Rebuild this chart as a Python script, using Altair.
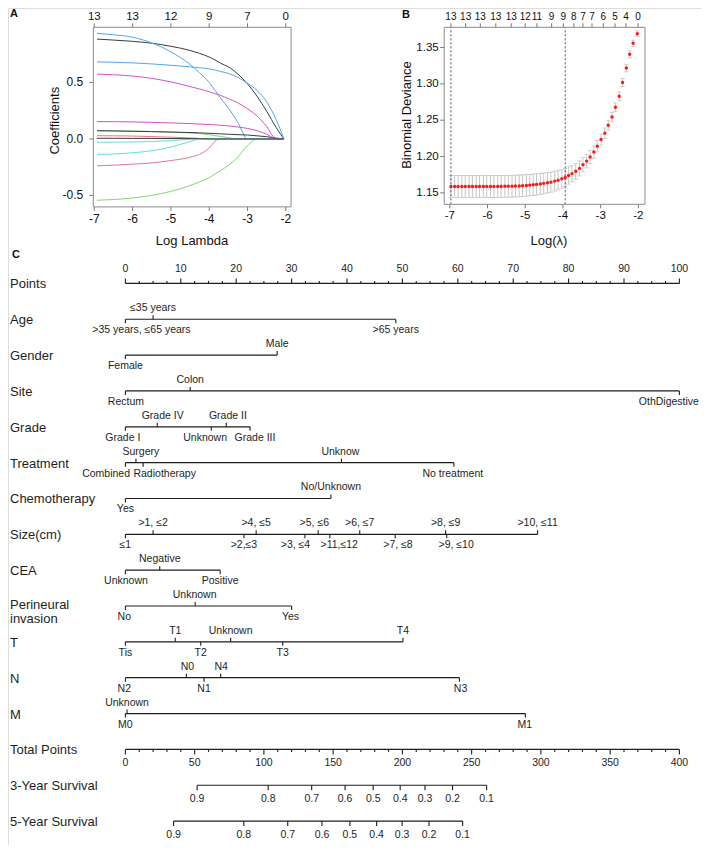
import altair as alt
import pandas as pd

FONT = "Liberation Sans"
INK = "#1e1e1e"
AXC = "#7a7a7a"
W, H = 693, 837

# ======================= Panel A : LASSO coefficient paths =======================
A_LOGLAMBDA = [-6.93, -6.5, -6.0, -5.5, -5.0, -4.5, -4.25, -4.0, -3.85, -3.7, -3.5,
               -3.25, -3.0, -2.75, -2.5, -2.25, -2.05]
A_COEF = {
    "V1":  [0.884, 0.875, 0.864, 0.847, 0.82, 0.783, 0.757, 0.725, 0.70, 0.67, 0.638, 0.574, 0.488, 0.377, 0.246, 0.10, 0.0],
    "V2":  [0.029, 0.028, 0.026, 0.021, 0.016, 0.009, 0.005, 0.0, 0.0, 0.0, 0.0, 0.0, 0.0, 0.0, 0.0, 0.0, 0.0],
    "V3":  [0.073, 0.072, 0.07, 0.066, 0.061, 0.053, 0.047, 0.038, 0.03, 0.022, 0.012, 0.0, 0.0, 0.0, 0.0, 0.0, 0.0],
    "V4":  [0.934, 0.922, 0.90, 0.85, 0.77, 0.66, 0.585, 0.50, 0.43, 0.36, 0.275, 0.145, 0.0, 0.0, 0.0, 0.0, 0.0],
    "V5":  [-0.029, -0.028, -0.026, -0.023, -0.014, -0.003, 0.0, 0.0, 0.0, 0.0, 0.0, 0.0, 0.0, 0.0, 0.0, 0.0, 0.0],
    "V6":  [0.574, 0.568, 0.557, 0.536, 0.505, 0.464, 0.442, 0.418, 0.40, 0.385, 0.357, 0.319, 0.267, 0.203, 0.11, 0.0, 0.0],
    "V7":  [0.073, 0.071, 0.068, 0.065, 0.061, 0.057, 0.054, 0.05, 0.048, 0.045, 0.042, 0.038, 0.035, 0.028, 0.02, 0.008, 0.0],
    "V8":  [-0.237, -0.232, -0.223, -0.212, -0.191, -0.162, -0.135, -0.080, -0.02, 0.0, 0.0, 0.0, 0.0, 0.0, 0.0, 0.0, 0.0],
    "V9":  [-0.542, -0.536, -0.522, -0.499, -0.464, -0.412, -0.38, -0.342, -0.31, -0.28, -0.232, -0.159, -0.058, 0.0, 0.0, 0.0, 0.0],
    "V10": [0.682, 0.679, 0.673, 0.664, 0.652, 0.638, 0.63, 0.62, 0.61, 0.597, 0.58, 0.545, 0.493, 0.429, 0.33, 0.17, 0.0],
    "V11": [-0.136, -0.133, -0.122, -0.104, -0.072, -0.023, 0.0, 0.0, 0.0, 0.0, 0.0, 0.0, 0.0, 0.0, 0.0, 0.0, 0.0],
    "V12": [0.154, 0.153, 0.151, 0.147, 0.142, 0.136, 0.132, 0.128, 0.125, 0.121, 0.116, 0.106, 0.093, 0.073, 0.043, 0.0, 0.0],
    "V13": [0.006, 0.006, 0.005, 0.005, 0.004, 0.003, 0.002, 0.0, 0.0, 0.0, 0.0, 0.0, 0.0, 0.0, 0.0, 0.0, 0.0],
}
A_COLORS = ["#3c3c3c", "#E8768A", "#7FD86C", "#4FA8EA", "#5CE0E3", "#D452C9",
            "#3c3c3c", "#E8768A", "#7FD86C", "#4FA8EA", "#5CE0E3", "#D452C9", "#3c3c3c"]
A_TICKS_X = [-7, -6, -5, -4, -3, -2]
A_TICKS_X_LABELS = ["-7", "-6", "-5", "-4", "-3", "-2"]
A_TICKS_Y = [-0.5, 0.0, 0.5]
A_TICKS_Y_LABELS = ["-0.5", "0.0", "0.5"]
A_TOP_AT = [-7, -6, -5, -4, -3, -2]
A_TOP_LABELS = ["13", "13", "12", "9", "7", "0"]
A_XTITLE, A_YTITLE = "Log Lambda", "Coefficients"
A_XDOM, A_YDOM = [-7.026, -1.862], [-0.601, 0.988]
A_XRANGE, A_YRANGE = [85.3, 283.1], [198.9, 19.3]

# ======================= Panel B : cross-validation deviance =======================
B_LOGLAMBDA = [-6.97, -6.87, -6.78, -6.68, -6.59, -6.49, -6.40, -6.30, -6.21, -6.11, -6.02,
               -5.92, -5.83, -5.73, -5.64, -5.54, -5.45, -5.35, -5.26, -5.16, -5.07,
               -4.97, -4.88, -4.79, -4.70,
               -4.60, -4.51, -4.41, -4.32, -4.22, -4.13, -4.03, -3.94,
               -3.85, -3.76, -3.66, -3.56, -3.47, -3.37, -3.28, -3.18, -3.09,
               -2.99, -2.89, -2.80, -2.70, -2.61, -2.51, -2.42, -2.32, -2.23, -2.14, -2.03]
B_DEV = [1.1588, 1.1588, 1.1588, 1.1588, 1.1588, 1.1588, 1.1588, 1.1588, 1.1588, 1.1588, 1.1588,
         1.1588, 1.1588, 1.1588, 1.1588, 1.1590, 1.1591, 1.1592, 1.1594, 1.1596, 1.1598,
         1.1603, 1.1607, 1.1612, 1.1617,
         1.1622, 1.1631, 1.1640, 1.1648, 1.1662, 1.1675, 1.1694, 1.1712,
         1.1739, 1.1765, 1.1797, 1.1837, 1.1887, 1.1937, 1.1995, 1.2062, 1.2143,
         1.2233, 1.2322, 1.2430, 1.2543, 1.2678, 1.2830, 1.3019, 1.3217, 1.3406, 1.3558, 1.3690]
B_SE = [0.0150, 0.0150, 0.0150, 0.0150, 0.0150, 0.0150, 0.0150, 0.0150, 0.0150, 0.0150, 0.0150,
        0.0150, 0.0150, 0.0150, 0.0150, 0.0150, 0.0150, 0.0150, 0.0150, 0.0150, 0.0150,
        0.0149, 0.0148, 0.0147, 0.0146,
        0.0145, 0.0143, 0.0141, 0.0139, 0.0136, 0.0132, 0.0128, 0.0124,
        0.0119, 0.0114, 0.0109, 0.0104, 0.0099, 0.0094, 0.0089, 0.0084, 0.0079,
        0.0075, 0.0071, 0.0068, 0.0065, 0.0062, 0.0059, 0.0056, 0.0052, 0.0048, 0.0044, 0.0040]
B_VLINES = [-6.97, -3.94]
B_TICKS_X = [-7, -6, -5, -4, -3, -2]
B_TICKS_X_LABELS = ["-7", "-6", "-5", "-4", "-3", "-2"]
B_TICKS_Y = [1.15, 1.20, 1.25, 1.30, 1.35]
B_TICKS_Y_LABELS = ["1.15", "1.20", "1.25", "1.30", "1.35"]
B_TOP_AT = [-6.97, -6.58, -6.19, -5.78, -5.37, -5.00, -4.69, -4.30, -3.99,
            -3.71, -3.47, -3.23, -2.93, -2.62, -2.33, -2.01]
B_TOP_LABELS = ["13", "13", "13", "13", "13", "12", "11", "9", "9",
                "8", "7", "7", "6", "5", "4", "0"]
B_XTITLE, B_YTITLE = "Log(λ)", "Binomial Deviance"
B_XDOM, B_YDOM = [-7.148, -1.825], [1.1343, 1.3778]
B_XRANGE, B_YRANGE = [436.2, 637.0], [196.3, 19.3]

# ======================= Panel C : nomogram =======================
NOMO_ROWS = ["Points", "Age", "Gender", "Site", "Grade", "Treatment", "Chemotherapy",
             "Size(cm)", "CEA", "Perineural\n\u00a0invasion", "T", "N", "M",
             "Total Points", "3-Year Survival", "5-Year Survival"]
VAR_LEVELS = [
    [">35 years, ≤65 years", "≤35 years", ">65 years"],
    ["Female", "Male"],
    ["Rectum", "Colon", "OthDigestive"],
    ["Grade I", "Grade IV", "Unknown", "Grade II", "Grade III"],
    ["Combined", "Surgery", "Radiotherapy", "Unknow", "No treatment"],
    ["Yes", "No/Unknown"],
    ["≤1", ">1, ≤2", ">2,≤3", ">4, ≤5", ">3, ≤4", ">5, ≤6", ">11,≤12", ">6, ≤7",
     ">7, ≤8", ">8, ≤9", ">9, ≤10", ">10, ≤11"],
    ["Unknown", "Negative", "Positive"],
    ["No", "Unknown", "Yes"],
    ["Tis", "T1", "T2", "Unknown", "T3", "T4"],
    ["N2", "N0", "N1", "N4", "N3"],
    ["M0", "Unknown", "M1"],
]
VAR_POINTS = [
    [0, 5.0, 48.8],
    [0, 27.4],
    [0, 11.7, 100],
    [0, 5.75, 15.5, 18.2, 22.5],
    [0, 1.9, 3.2, 39.0, 59.3],
    [0, 37.1],
    [0, 5.0, 21.4, 23.6, 32.4, 34.8, 36.9, 42.3, 48.7, 57.8, 58.0, 74.4],
    [0, 6.2, 17.1],
    [0, 12.6, 30.0],
    [0, 9.0, 13.6, 19.0, 28.4, 50.1],
    [0, 11.0, 14.2, 17.2, 60.3],
    [0, 0.3, 72.2],
]
VAR_SIDE = [
    ["down", "up", "down"],
    ["down", "up"],
    ["down", "up", "down"],
    ["down", "up", "down", "up", "down"],
    ["down", "up", "down", "up", "down"],
    ["down", "up"],
    ["down", "up", "down", "up", "down", "up", "down", "up", "down", "up", "down", "up"],
    ["down", "up", "down"],
    ["down", "up", "down"],
    ["down", "up", "down", "up", "down", "up"],
    ["down", "up", "down", "up", "down"],
    ["down", "up", "down"],
]
VAR_LABEL_AT = [
    [2.9, 5.0, 48.8],
    [0, 27.4],
    [0.1, 11.7, 98.1],
    [-0.46, 6.73, 14.39, 18.5, 23.39],
    [-3.48, 2.79, 7.09, 38.8, 59.1],
    [0, 37.1],
    [0, 5.0, 21.4, 23.6, 30.7, 34.1, 38.6, 42.3, 49.2, 57.8, 59.7, 74.4],
    [0.1, 6.2, 17.1],
    [-0.2, 12.5, 29.8],
    [0, 9.0, 13.6, 19.0, 28.4, 50.1],
    [-0.2, 11.2, 14.2, 17.3, 60.5],
    [0, 0.3, 72.1],
]
POINTS_MAJOR = [0, 10, 20, 30, 40, 50, 60, 70, 80, 90, 100]
POINTS_MINOR = [2.5, 5, 7.5, 12.5, 15, 17.5, 22.5, 25, 27.5, 32.5, 35, 37.5, 42.5, 45, 47.5,
                52.5, 55, 57.5, 62.5, 65, 67.5, 72.5, 75, 77.5, 82.5, 85, 87.5, 92.5, 95, 97.5]
TOTAL_MAX = 400
TOTAL_MAJOR = [0, 50, 100, 150, 200, 250, 300, 350, 400]
TOTAL_MINOR = [10, 20, 30, 40, 60, 70, 80, 90, 110, 120, 130, 140, 160, 170, 180, 190,
               210, 220, 230, 240, 260, 270, 280, 290, 310, 320, 330, 340, 360, 370, 380, 390]
SURV_PROB = ["0.9", "0.8", "0.7", "0.6", "0.5", "0.4", "0.3", "0.2", "0.1"]
SURV3_TOTAL = [51.8, 103.1, 134.5, 158.6, 178.9, 198.4, 216.3, 236.2, 260.8]
SURV5_TOTAL = [34.8, 85.5, 117.2, 141.9, 162.1, 181.4, 199.8, 219.2, 243.5]
N_XRANGE = [117.4, 671.4]
N_YRANGE = [275.4, 813.1]

# ---------------------------------------------------------------------------
def sc(dom, rng):
    return alt.Scale(domain=dom, range=rng, nice=False, zero=False)

ONE = alt.Data(values=[{}])


def framed_panel(xs, ys, xdom, ydom, xticks, xlabs, yticks, ylabs, toppos, toplabs,
                 tick_fs, top_fs, ylab_dx):
    """Box, tick marks and tick labels of an R-style base-graphics panel."""
    Xq = lambda f: alt.X(f, type="quantitative", scale=xs, axis=None)
    Yq = lambda f: alt.Y(f, type="quantitative", scale=ys, axis=None)
    box = alt.Chart(ONE).mark_rect(fillOpacity=0, stroke="#8a8a8a", strokeWidth=1).encode(
        x=alt.XDatum(xdom[0], type="quantitative", scale=xs, axis=None), x2=alt.X2Datum(xdom[1]),
        y=alt.YDatum(ydom[0], type="quantitative", scale=ys, axis=None), y2=alt.Y2Datum(ydom[1]))
    xdf = alt.Chart(pd.DataFrame({"at": xticks, "lab": xlabs}))
    ydf = alt.Chart(pd.DataFrame({"at": yticks, "lab": ylabs}))
    tdf = alt.Chart(pd.DataFrame({"at": toppos, "lab": toplabs}))
    ybot = alt.YDatum(ydom[0], type="quantitative", scale=ys, axis=None)
    ytop = alt.YDatum(ydom[1], type="quantitative", scale=ys, axis=None)
    xleft = alt.XDatum(xdom[0], type="quantitative", scale=xs, axis=None)
    bt = xdf.mark_rule(color=AXC, y2Offset=4).encode(x=Xq("at"), y=ybot, y2=alt.Y2Datum(ydom[0]))
    bl = xdf.mark_text(font=FONT, fontSize=tick_fs, color="#111", dy=12).encode(
        x=Xq("at"), y=ybot, text="lab:N")
    lt = ydf.mark_rule(color=AXC, x2Offset=-4).encode(y=Yq("at"), x=xleft, x2=alt.X2Datum(xdom[0]))
    ll = ydf.mark_text(font=FONT, fontSize=tick_fs, color="#111", align="right", dx=ylab_dx).encode(
        y=Yq("at"), x=xleft, text="lab:N")
    tt = tdf.mark_rule(color=AXC, y2Offset=-4).encode(x=Xq("at"), y=ytop, y2=alt.Y2Datum(ydom[1]))
    tl = tdf.mark_text(font=FONT, fontSize=top_fs, color="#111", dy=-10).encode(
        x=Xq("at"), y=ytop, text="lab:N")
    return [box, bt, bl, lt, ll, tt, tl]


def title_text(t, x, y, angle=0):
    return alt.Chart(ONE).mark_text(text=t, font=FONT, fontSize=13, color="#111",
                                    angle=angle, baseline="middle", align="center").encode(
        x=alt.value(x), y=alt.value(y))

# ----------------------------- Panel A -----------------------------
axA = sc(A_XDOM, A_XRANGE)
ayA = sc(A_YDOM, A_YRANGE)
a_df = pd.DataFrame([{"loglambda": x, "coef": c, "var": v}
                     for v, vals in A_COEF.items() for x, c in zip(A_LOGLAMBDA, vals)])
a_lines = alt.Chart(a_df).mark_line(strokeWidth=1, interpolate="monotone").encode(
    x=alt.X("loglambda:Q", scale=axA, axis=None),
    y=alt.Y("coef:Q", scale=ayA, axis=None),
    color=alt.Color("var:N", scale=alt.Scale(domain=list(A_COEF.keys()), range=A_COLORS), legend=None),
)
panelA = alt.layer(
    a_lines,
    *framed_panel(axA, ayA, A_XDOM, A_YDOM, A_TICKS_X, A_TICKS_X_LABELS, A_TICKS_Y,
                  A_TICKS_Y_LABELS, A_TOP_AT, A_TOP_LABELS, 12, 11.5, -10),
    title_text(A_XTITLE, 184, 232.6),
    title_text(A_YTITLE, 47, 112.7, angle=270),
)

# ----------------------------- Panel B -----------------------------
axB = sc(B_XDOM, B_XRANGE)
ayB = sc(B_YDOM, B_YRANGE)
b_df = pd.DataFrame({"loglambda": B_LOGLAMBDA, "dev": B_DEV, "se": B_SE})
b_base = alt.Chart(b_df).transform_calculate(lo="datum.dev - datum.se", hi="datum.dev + datum.se")
BX = alt.X("loglambda:Q", scale=axB, axis=None)
b_bars = b_base.mark_rule(color="#b8b8b8", strokeWidth=0.8).encode(
    x=BX, y=alt.Y("lo:Q", scale=ayB, axis=None), y2="hi:Q")
b_cap_lo = b_base.mark_tick(orient="horizontal", size=5, thickness=0.8, color="#b8b8b8").encode(
    x=BX, y=alt.Y("lo:Q", scale=ayB, axis=None))
b_cap_hi = b_base.mark_tick(orient="horizontal", size=5, thickness=0.8, color="#b8b8b8").encode(
    x=BX, y=alt.Y("hi:Q", scale=ayB, axis=None))
b_pts = b_base.mark_circle(size=12, color="#ff1a1a", opacity=1).encode(
    x=BX, y=alt.Y("dev:Q", scale=ayB, axis=None))
b_vl = alt.Chart(pd.DataFrame({"at": B_VLINES})).mark_rule(
    color="#444", strokeDash=[2, 2], strokeWidth=0.9).encode(
    x=alt.X("at:Q", scale=axB, axis=None),
    y=alt.YDatum(B_YDOM[0], type="quantitative", scale=ayB, axis=None), y2=alt.Y2Datum(B_YDOM[1]),
)
panelB = alt.layer(
    b_bars, b_cap_lo, b_cap_hi, b_pts, b_vl,
    *framed_panel(axB, ayB, B_XDOM, B_YDOM, B_TICKS_X, B_TICKS_X_LABELS, B_TICKS_Y,
                  B_TICKS_Y_LABELS, B_TOP_AT, B_TOP_LABELS, 11.5, 10, -5.5),
    title_text(B_XTITLE, 541, 232.6),
    title_text(B_YTITLE, 398.5, 107, angle=270),
)

# ----------------------------- Panel C -----------------------------
axN = sc([0, 100], N_XRANGE)
ayN = sc([0, len(NOMO_ROWS) - 1], N_YRANGE)
NX = lambda f: alt.X(f, type="quantitative", scale=axN, axis=None)
NY = lambda f: alt.Y(f, type="quantitative", scale=ayN, axis=None)

lev_rows = []
line_rows = []
for i, (levs, pts, sides, lab_at) in enumerate(zip(VAR_LEVELS, VAR_POINTS, VAR_SIDE, VAR_LABEL_AT)):
    r = i + 1
    for lv, p, s, la in zip(levs, pts, sides, lab_at):
        lev_rows.append({"row": r, "level": lv, "pts": p, "side": s, "lab_at": la})
    line_rows.append({"row": r, "x0": min(pts), "x1": max(pts)})
ROW_TOTAL, ROW_S3, ROW_S5 = 13, 14, 15
line_rows.append({"row": 0, "x0": POINTS_MAJOR[0], "x1": POINTS_MAJOR[-1]})
line_rows.append({"row": ROW_TOTAL, "x0": TOTAL_MAJOR[0] * 100 / TOTAL_MAX, "x1": TOTAL_MAJOR[-1] * 100 / TOTAL_MAX})
line_rows.append({"row": ROW_S3, "x0": min(SURV3_TOTAL) * 100 / TOTAL_MAX, "x1": max(SURV3_TOTAL) * 100 / TOTAL_MAX})
line_rows.append({"row": ROW_S5, "x0": min(SURV5_TOTAL) * 100 / TOTAL_MAX, "x1": max(SURV5_TOTAL) * 100 / TOTAL_MAX})
lev_df = pd.DataFrame(lev_rows)
line_df = pd.DataFrame(line_rows)

TXT = dict(font=FONT, fontSize=10.5, color=INK)

n_lines = alt.Chart(line_df).mark_rule(color=INK, strokeWidth=1.2).encode(
    x=NX("x0"), x2="x1", y=NY("row"))
lev_base = alt.Chart(lev_df)
n_tick_up = lev_base.transform_filter("datum.side == 'up'").mark_rule(
    color=INK, strokeWidth=1.1, y2Offset=-4).encode(x=NX("pts"), y=NY("row"), y2="row")
n_tick_dn = lev_base.transform_filter("datum.side == 'down'").mark_rule(
    color=INK, strokeWidth=1.1, y2Offset=4).encode(x=NX("pts"), y=NY("row"), y2="row")
n_lab_up = lev_base.transform_filter("datum.side == 'up'").mark_text(dy=-11, **TXT).encode(
    x=NX("lab_at"), y=NY("row"), text="level:N")
n_lab_dn = lev_base.transform_filter("datum.side == 'down'").mark_text(dy=11, **TXT).encode(
    x=NX("lab_at"), y=NY("row"), text="level:N")

pmaj = alt.Chart(pd.DataFrame({"v": POINTS_MAJOR, "row": 0}))
pmin = alt.Chart(pd.DataFrame({"v": POINTS_MINOR, "row": 0}))
p_maj_t = pmaj.mark_rule(color=INK, strokeWidth=1.1, y2Offset=-5).encode(x=NX("v"), y=NY("row"), y2="row")
p_min_t = pmin.mark_rule(color=INK, strokeWidth=1.1, y2Offset=-2.5).encode(x=NX("v"), y=NY("row"), y2="row")
p_lab = pmaj.mark_text(dy=-14, **TXT).encode(x=NX("v"), y=NY("row"), text=alt.Text("v:Q", format="d"))

tmaj = alt.Chart(pd.DataFrame({"tp": TOTAL_MAJOR, "row": ROW_TOTAL})).transform_calculate(
    v=f"datum.tp * 100 / {TOTAL_MAX}")
tmin = alt.Chart(pd.DataFrame({"tp": TOTAL_MINOR, "row": ROW_TOTAL})).transform_calculate(
    v=f"datum.tp * 100 / {TOTAL_MAX}")
t_maj_t = tmaj.mark_rule(color=INK, strokeWidth=1.1, y2Offset=5).encode(x=NX("v"), y=NY("row"), y2="row")
t_min_t = tmin.mark_rule(color=INK, strokeWidth=1.1, y2Offset=2.5).encode(x=NX("v"), y=NY("row"), y2="row")
t_lab = tmaj.mark_text(dy=14, **TXT).encode(x=NX("v"), y=NY("row"), text=alt.Text("tp:Q", format="d"))

surv_df = pd.DataFrame(
    [{"row": ROW_S3, "tp": t, "prob": p} for t, p in zip(SURV3_TOTAL, SURV_PROB)] +
    [{"row": ROW_S5, "tp": t, "prob": p} for t, p in zip(SURV5_TOTAL, SURV_PROB)])
sbase = alt.Chart(surv_df).transform_calculate(v=f"datum.tp * 100 / {TOTAL_MAX}")
s_t = sbase.mark_rule(color=INK, strokeWidth=1.1, y2Offset=5).encode(x=NX("v"), y=NY("row"), y2="row")
s_lab = sbase.mark_text(dy=14, **TXT).encode(x=NX("v"), y=NY("row"), text="prob:N")

names_df = pd.DataFrame({"row": list(range(len(NOMO_ROWS))), "name": NOMO_ROWS})
n_names = alt.Chart(names_df).transform_filter("indexof(datum.name, '\\n') < 0").mark_text(
    align="left", baseline="middle", dy=1, font=FONT, fontSize=13, color=INK).encode(
    x=alt.value(2), y=NY("row"), text="name:N")
n_names2 = alt.Chart(names_df).transform_filter("indexof(datum.name, '\\n') >= 0").mark_text(
    align="left", baseline="middle", dy=-1.5, lineBreak="\n", lineHeight=14,
    font=FONT, fontSize=13, color=INK).encode(
    x=alt.value(2), y=NY("row"), text="name:N")

panelC = alt.layer(n_lines, n_tick_up, n_tick_dn, n_lab_up, n_lab_dn,
                   p_maj_t, p_min_t, p_lab, t_maj_t, t_min_t, t_lab, s_t, s_lab,
                   n_names, n_names2)

# ----------------------------- panel letters -----------------------------
def letter(t, x, y):
    return alt.Chart(ONE).mark_text(text=t, font=FONT, fontSize=11, fontWeight="bold",
                                    align="left", baseline="top", color="#111").encode(
        x=alt.value(x), y=alt.value(y))

letters = alt.layer(letter("A", 2, 0), letter("B", 394, 1), letter("C", 4, 241))

chart = alt.layer(panelA, panelB, panelC, letters).resolve_scale(
    x="independent", y="independent", color="independent"
).properties(
    width=W, height=H, padding=0, autosize=alt.AutoSizeParams(type="none")
).configure_view(stroke=None).configure(font=FONT)

chart.save("out.html", embed_options={"renderer": "svg", "actions": False})
